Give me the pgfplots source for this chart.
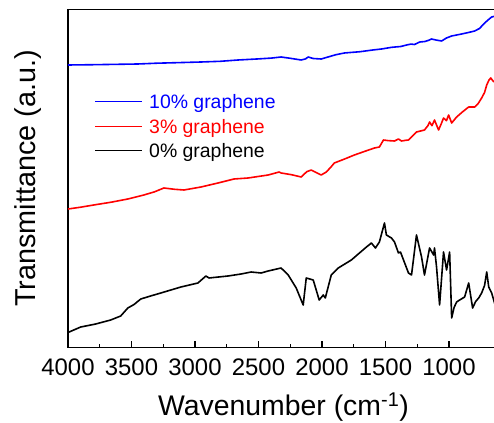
\documentclass[border=0pt]{standalone}
\usepackage{pgfplots}
\pgfplotsset{compat=1.18}
\usepackage{fontspec}
\setmainfont{Liberation Sans}

\tikzset{key/.style={anchor=base west, inner sep=0pt, font=\fontsize{19.5}{22}\selectfont}}

% FTIR spectra, transmittance offset per sample
\pgfplotstableread{
wn   t
4000 282.5
3800 282.8
3600 283.2
3451 283.5
3300 284.3
3150 284.8
2953 285.5
2800 286.2
2661 287.5
2500 288.6
2400 289.4
2322 290.5
2250 289.2
2164 287.5
2130 288.6
2108 290.5
2070 289.0
2006 288.5
1950 290.6
1890 292.8
1824 294.5
1700 295.8
1600 297.5
1532 298.5
1450 300.2
1380 301.0
1330 302.6
1300 303.4
1272 303
1230 305.5
1190 306.0
1160 307.2
1137 308.5
1100 307.4
1058 306.5
1020 309.5
979  311.5
900  313.5
840  315.2
798  316.5
760  319.0
719  324.5
690  327.8
664  330.5
632  331.5
}\tengraphene

\pgfplotstableread{
wn   t
4000 138.5
3900 140.3
3798 142.5
3660 145.3
3529 148.5
3403 152.5
3320 155.6
3245 159.5
3160 158.2
3087 157.5
2953 160.5
2819 164.5
2693 168.5
2582 169.5
2424 172.5
2337 175.5
2322 174.5
2240 172.8
2164 170.5
2120 175.8
2085 177.5
2040 174.6
2006 172.5
1966 175.5
1930 180.4
1903 184.5
1820 188.6
1745 192.5
1660 196.3
1587 199.5
1548 200.5
1516 207.5
1480 206.9
1429 206.5
1398 208.5
1374 206.5
1340 207.2
1319 207.5
1256 215.5
1193 217.5
1165 222.0
1153 225.5
1134 221.8
1114 227.5
1082 217.5
1060 224.0
1043 229.5
1020 226.8
1003 232.5
979  224.5
940  230.5
890  236.0
845  240.5
798  240.5
770  244.0
743  249.5
720  255.0
703  262.5
685  267.5
671  269.5
650  266.0
632  265.5
}\threegraphene

\pgfplotstableread{
wn   t
4000 15
3900 20.5
3782 23.5
3664 27.5
3585 31.5
3529 39.5
3480 43.0
3427 48.5
3350 51.5
3269 54.5
3111 60.5
2977 64.5
2914 71.5
2890 69.5
2740 71.5
2637 73.5
2558 75.5
2479 74.5
2424 76.5
2322 79.5
2266 72.5
2203 59.5
2148 42.5
2124 69.5
2069 67.5
2022 47.5
1990 52.5
1974 49.5
1927 72.5
1872 79.5
1769 87.5
1650 100.5
1611 104.5
1579 99.5
1548 105.5
1508 124.5
1493 112.5
1453 109.5
1429 105.5
1398 94.5
1382 95.5
1358 87.5
1319 74.5
1295 72.5
1256 112.5
1216 90.5
1193 72.5
1153 99.5
1121 92.5
1114 99.5
1098 80.5
1074 42.5
1043 95.5
1019 77.5
995  95.5
979  29.5
960  40.0
940  45.5
916  47.5
877  50.5
845  64.5
814  39.5
790  46.0
766  49.5
743  54.5
720  62.0
703  75.5
687  60.5
664  54.5
632  40.5
}\zerographene

\begin{document}
\begin{tikzpicture}
\begin{axis}[
  name=ax,
  at={(0,0)}, anchor=south west,
  scale only axis,
  width=431.8bp, height=338.2bp,
  x dir=reverse,
  xmin=600, xmax=4000,
  ymin=0, ymax=338.2,
  axis line style={line width=1.5bp},
  xtick={1000,1500,...,4000},
  minor x tick num=1,
  xtick pos=bottom,
  ytick=\empty,
  major tick length=6bp,
  minor tick length=3.3bp,
  tick style={line width=1.3bp, black},
  /pgf/number format/assume math mode=true,
  /pgf/number format/1000 sep={},
  xticklabel style={font=\fontsize{24}{28}\selectfont, anchor=base, yshift=-27.5bp},
  every axis x label/.style={at={(axis description cs:0.499,-0.1996)}, anchor=base,
    font=\fontsize{28.5}{32}\selectfont},
  every axis y label/.style={at={(axis description cs:-0.0764,0.5)}, rotate=90, anchor=base,
    font=\fontsize{28.9}{32}\selectfont},
  xlabel={Wavenumber (cm\textsuperscript{-1})},
  ylabel={Transmittance (a.u.)},
  every axis plot/.append style={line width=1.6bp, line join=round},
]
\addplot[blue] table[x=wn, y=t] {\tengraphene};
\addplot[red] table[x=wn, y=t] {\threegraphene};
\addplot[black] table[x=wn, y=t] {\zerographene};

% key: sample lines and their names
\addplot[blue, forget plot] coordinates {(3787,245.8) (3417,245.8)};
\addplot[red, forget plot] coordinates {(3787,220.8) (3417,220.8)};
\addplot[black, forget plot] coordinates {(3787,196.8) (3417,196.8)};
\node[key, text=blue] at (axis cs:3362,239.2) {10\% graphene};
\node[key, text=red] at (axis cs:3362,214.2) {3\% graphene};
\node[key, text=black] at (axis cs:3362,190.2) {0\% graphene};
\end{axis}
\pgfresetboundingbox
\useasboundingbox ([shift={(-68bp,-75.5bp)}]ax.south west) rectangle ([shift={(426bp,347.5bp)}]ax.south west);
\end{tikzpicture}
\end{document}
